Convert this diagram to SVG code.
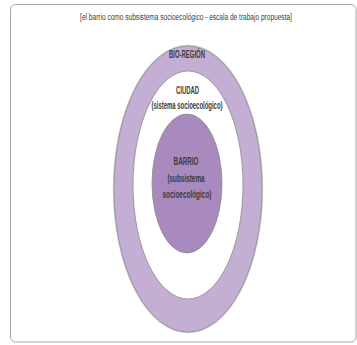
<svg xmlns="http://www.w3.org/2000/svg" width="357" height="345" viewBox="0 0 357 345">
<style>
text{font-family:"Liberation Sans Narrow","Liberation Sans",Arial,sans-serif;fill:#3a3a3a;text-anchor:middle;}
.t{font-size:9.5px;}
.b{font-size:10px;font-weight:bold;}
.ring{stroke:#8a8a8a;stroke-width:0.8;}
</style>
<rect x="0" y="0" width="357" height="345" fill="#ffffff"/>
<rect id="frame" x="10.5" y="4.5" width="345.5" height="337.5" rx="5" fill="#ffffff" stroke="#a6a6a6" stroke-width="1"/>
<text class="t" transform="translate(186 19.5) scale(0.66 1)" x="0" y="0" textLength="321" lengthAdjust="spacingAndGlyphs">[el barrio como subsistema socioecológico - escala de trabajo propuesta]</text>
<g id="bioregion">
<ellipse cx="188" cy="189" rx="74.5" ry="143.5" fill="none" stroke="#d0d0d0" stroke-width="1.5"/>
<ellipse class="ring" cx="188" cy="189" rx="74" ry="143" fill="#c4aed4"/>
<text class="b" transform="translate(187 58) scale(0.62 1)" x="0" y="0" textLength="58" lengthAdjust="spacingAndGlyphs">BIO-REGIÓN</text>
</g>
<g id="ciudad">
<ellipse class="ring" cx="188" cy="185" rx="55" ry="114" fill="#ffffff"/>
<text class="b" transform="translate(187.5 93.5) scale(0.62 1)" x="0" y="0" textLength="37" lengthAdjust="spacingAndGlyphs">CIUDAD</text>
<text class="b" transform="translate(187 109) scale(0.62 1)" x="0" y="0" textLength="114.5" lengthAdjust="spacingAndGlyphs">(sistema socioecológico)</text>
</g>
<g id="barrio">
<ellipse class="ring" cx="187" cy="183.5" rx="35" ry="69.5" fill="#a98abf"/>
<text class="b" transform="translate(186 165) scale(0.62 1)" x="0" y="0" textLength="40" lengthAdjust="spacingAndGlyphs">BARRIO</text>
<text class="b" transform="translate(186 181.5) scale(0.62 1)" x="0" y="0" textLength="60" lengthAdjust="spacingAndGlyphs">(subsistema</text>
<text class="b" transform="translate(187 198) scale(0.62 1)" x="0" y="0" textLength="79" lengthAdjust="spacingAndGlyphs">socioecológico)</text>
</g>
<g id="connectors"></g>
</svg>
